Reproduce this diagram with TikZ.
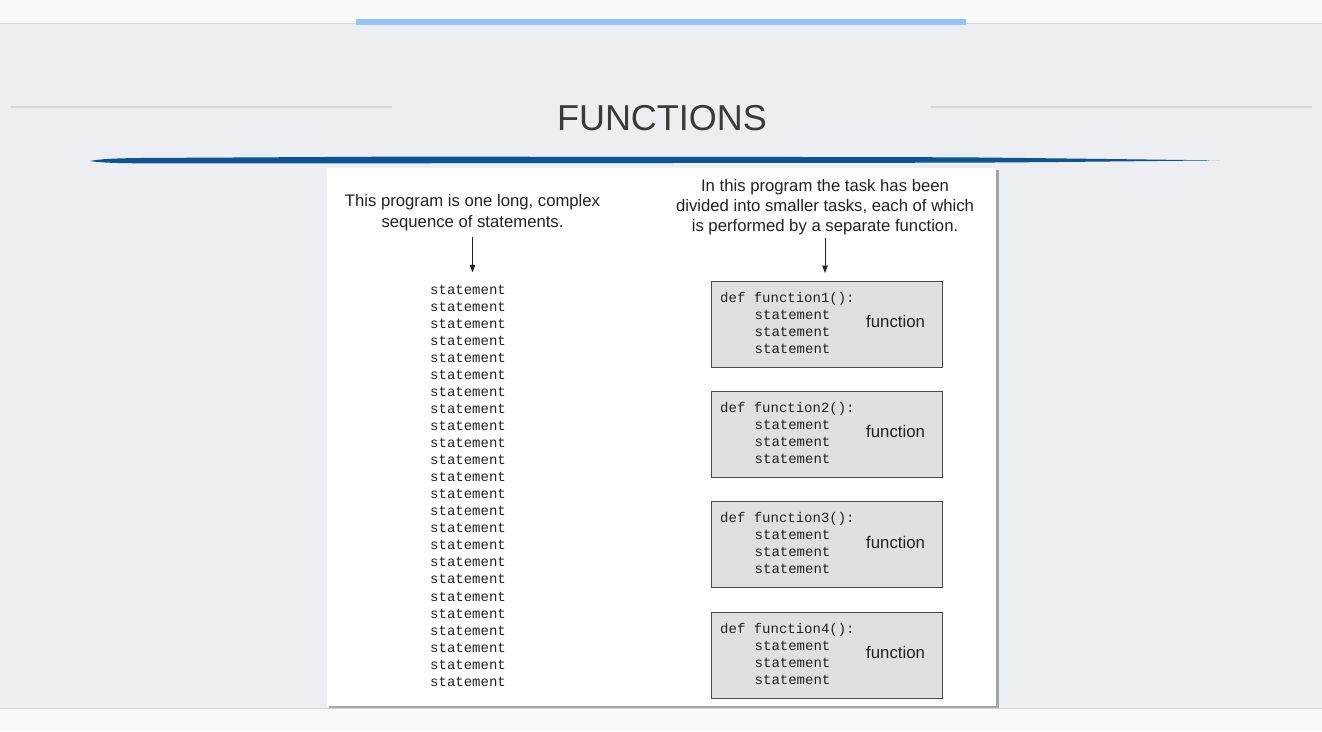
\documentclass[tikz,border=0pt]{standalone}
\usepackage{fontspec}
\setmainfont{Liberation Sans}
\setmonofont{Liberation Mono}
\usetikzlibrary{arrows.meta}
\definecolor{bgmain}{HTML}{ECEEF2}
\definecolor{bgband}{HTML}{F8F9FB}
\definecolor{barblue}{HTML}{93C3F7}
\definecolor{brushblue}{HTML}{0B5596}
\definecolor{rulegray}{HTML}{D6D8DC}
\definecolor{titlegray}{HTML}{3A3A3A}
\definecolor{ink}{HTML}{222222}
\definecolor{boxfill}{HTML}{E0E0E0}
\definecolor{boxline}{HTML}{4A4A4A}
\begin{document}
\begin{tikzpicture}[x=1pt,y=-1pt,
  caption/.style={font=\fontsize{16.7}{20.2}\selectfont, text=ink, align=center, inner sep=0pt},
  code/.style={font=\ttfamily\fontsize{14}{17}\selectfont, text=ink, inner sep=0pt, anchor=base west},
  fbox/.style={draw=boxline, line width=1pt, fill=boxfill, minimum width=231pt, minimum height=86pt, inner sep=0pt, outer sep=0pt, anchor=north west},
  flabel/.style={font=\fontsize{16.8}{18}\selectfont, text=ink, inner sep=0pt, anchor=base west},
  pointer/.style={draw=ink, line width=0.9pt, -{Triangle[length=7.5pt,width=5.5pt]}}
]
\useasboundingbox (0,0) rectangle (1322,731);
% backgrounds
\fill[bgmain] (0,0) rectangle (1322,731);
\fill[bgband] (0,0) rectangle (1322,22.5);
\fill[rulegray] (0,22.5) rectangle (1322,24);
\fill[barblue] (356,19.3) rectangle (966,24.5);
\fill[rulegray] (0,708) rectangle (1322,709.2);
\fill[bgband] (0,709.2) rectangle (1322,731);
% title
\node[font=\fontsize{36}{40}\selectfont, text=titlegray, anchor=base, inner sep=0pt] (title) at (662,130) {FUNCTIONS};
\draw[rulegray, line width=1.2pt] (11,107) -- (392,107);
\draw[rulegray, line width=1.2pt] (931,107) -- (1312,107);
% brush stroke
\fill[brushblue] (90,161) .. controls (100,159) and (115,158.3) .. (140,158) -- (380,156.7) -- (700,156.8) -- (960,157.3)
  .. controls (1060,158.3) and (1150,159.6) .. (1220,160.4)
  .. controls (1150,161) and (1060,162.2) .. (960,162.7) -- (380,163.3) -- (140,163.3)
  .. controls (115,163.2) and (100,162.6) .. (90,161) -- cycle;
% panel
\fill[black!35] (329,170) rectangle (998.5,708.3);
\fill[white] (327,168) rectangle (996,706);
% captions
\node[caption, anchor=north] (lt) at (472.5,194.5) {This program is one long, complex\\sequence of statements.};
\node[caption, anchor=north] (rt) at (825,178.8) {In this program the task has been\\divided into smaller tasks, each of which\\is performed by a separate function.};
% statements
\foreach \i in {1,...,24} {
  \node[code] (s\i) at (430,{294.3+17.04*(\i-1)}) {statement};
}
% function boxes
\foreach \i in {1,...,4} {
  \pgfmathsetmacro\fy{281+110.4*(\i-1)}
  \node[fbox] (f\i) at (711,\fy) {};
  \node[code] (d\i) at (720,\fy+21) {def function\i():};
  \node[code] (a\i) at (754.5,\fy+38) {statement};
  \node[code] (b\i) at (754.5,\fy+55) {statement};
  \node[code] (c\i) at (754.5,\fy+72) {statement};
  \node[flabel] (l\i) at (866,\fy+46.5) {function};
}
% arrows
\draw[pointer, shorten <=6pt, shorten >=12.5pt] (lt.south) -- (lt.south |- s1.north);
\draw[pointer, shorten <=3pt, shorten >=8pt] (rt.south) -- (rt.south |- f1.north);
\end{tikzpicture}
\end{document}
